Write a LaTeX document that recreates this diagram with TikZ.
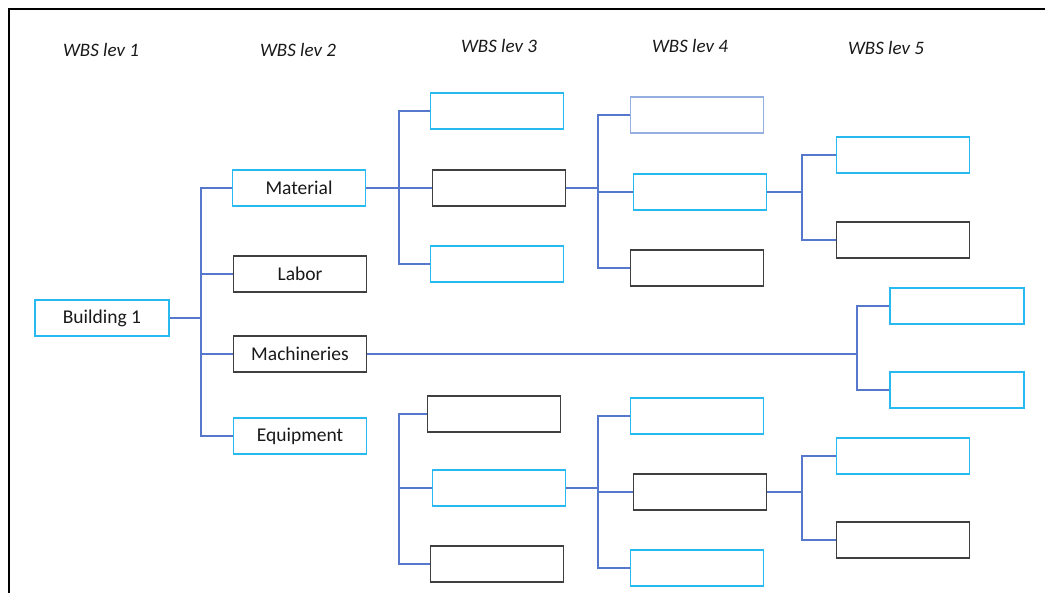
\documentclass[tikz,border=0pt]{standalone}
\usepackage{fontspec}
\setmainfont{Carlito}
\definecolor{boxcyan}{RGB}{40,185,240}
\definecolor{boxpale}{RGB}{150,175,225}
\definecolor{linkblue}{RGB}{85,120,205}

\begin{document}
\begin{tikzpicture}[x=1pt, y=-1pt]

% Styles
\tikzset{
  box/.style={draw, line width=1.6pt, minimum width=133pt, minimum height=36pt,
    inner sep=0pt, font=\fontsize{19.5}{23}\selectfont, text=black!90},
  cyanbox/.style={box, draw=boxcyan},
  darkbox/.style={box, draw=black!75},
  palebox/.style={box, draw=boxpale},
  link/.style={line width=1.3pt, draw=linkblue},
  level/.style={font=\fontsize{19}{23}\selectfont\itshape, text=black!90}
}

\useasboundingbox (0,0) rectangle (1045,593);

% Frame
\coordinate (fb) at (9,593);
\coordinate (fc) at (9,9);
\coordinate (fr) at (1045,9);
\draw[line width=1.8pt] (fb) -- (fc) -- (fr);

% Level headings
\node[level] (h1) at (101,50) {WBS lev 1};
\node[level] (h2) at (298,50) {WBS lev 2};
\node[level] (h3) at (499,46) {WBS lev 3};
\node[level] (h4) at (690,46) {WBS lev 4};
\node[level] (h5) at (886,48) {WBS lev 5};

% Level 1 and 2
\node[cyanbox, minimum width=134pt] (bld) at (102,318) {Building 1};
\node[cyanbox] (mat)  at (299,188) {Material};
\node[darkbox] (lab)  at (300,274) {Labor};
\node[darkbox] (mach) at (300,354) {Machineries};
\node[cyanbox] (equ)  at (300,436) {Equipment};

% Upper branch
\node[cyanbox] (ua3) at (497,111) {};
\node[darkbox] (ub3) at (499,188) {};
\node[cyanbox] (uc3) at (497,264) {};
\node[palebox] (ua4) at (697,115) {};
\node[cyanbox] (ub4) at (700,192) {};
\node[darkbox] (uc4) at (697,268) {};
\node[cyanbox] (ua5) at (903,155) {};
\node[darkbox] (ub5) at (903,240) {};

% Machineries branch
\node[cyanbox, minimum width=134pt] (ma5) at (957,306) {};
\node[cyanbox, minimum width=134pt] (mb5) at (957,390) {};

% Lower branch
\node[darkbox] (la3) at (494,414) {};
\node[cyanbox] (lb3) at (499,488) {};
\node[darkbox] (lc3) at (497,564) {};
\node[cyanbox] (la4) at (697,416) {};
\node[darkbox] (lb4) at (700,492) {};
\node[cyanbox] (lc4) at (697,568) {};
\node[cyanbox] (la5) at (903,456) {};
\node[darkbox] (lb5) at (903,540) {};

% Bus points
\coordinate (j1) at (201,318);
\coordinate (j2) at (399,188);
\coordinate (j3) at (598,188);
\coordinate (j4) at (802,192);
\coordinate (j5) at (857,352);
\coordinate (j6) at (399,488);
\coordinate (j7) at (598,488);
\coordinate (j8) at (802,492);

% Connectors
\draw[link] (bld.east) -- (j1);
\foreach \c in {mat, lab, mach, equ}
  \draw[link] (j1) |- (\c.west);

\draw[link] (mat.east) -- (j2);
\foreach \c in {ua3, ub3, uc3}
  \draw[link] (j2) |- (\c.west);

\draw[link] (ub3.east) -- (j3);
\foreach \c in {ua4, ub4, uc4}
  \draw[link] (j3) |- (\c.west);

\draw[link] (ub4.east) -- (j4);
\foreach \c in {ua5, ub5}
  \draw[link] (j4) |- (\c.west);

\draw[link] (mach.east) -- (mach.east -| j5);
\foreach \c in {ma5, mb5}
  \draw[link] (j5) |- (\c.west);

\foreach \c in {la3, lb3, lc3}
  \draw[link] (j6) |- (\c.west);

\draw[link] (lb3.east) -- (j7);
\foreach \c in {la4, lb4, lc4}
  \draw[link] (j7) |- (\c.west);

\draw[link] (lb4.east) -- (j8);
\foreach \c in {la5, lb5}
  \draw[link] (j8) |- (\c.west);

\end{tikzpicture}
\end{document}
